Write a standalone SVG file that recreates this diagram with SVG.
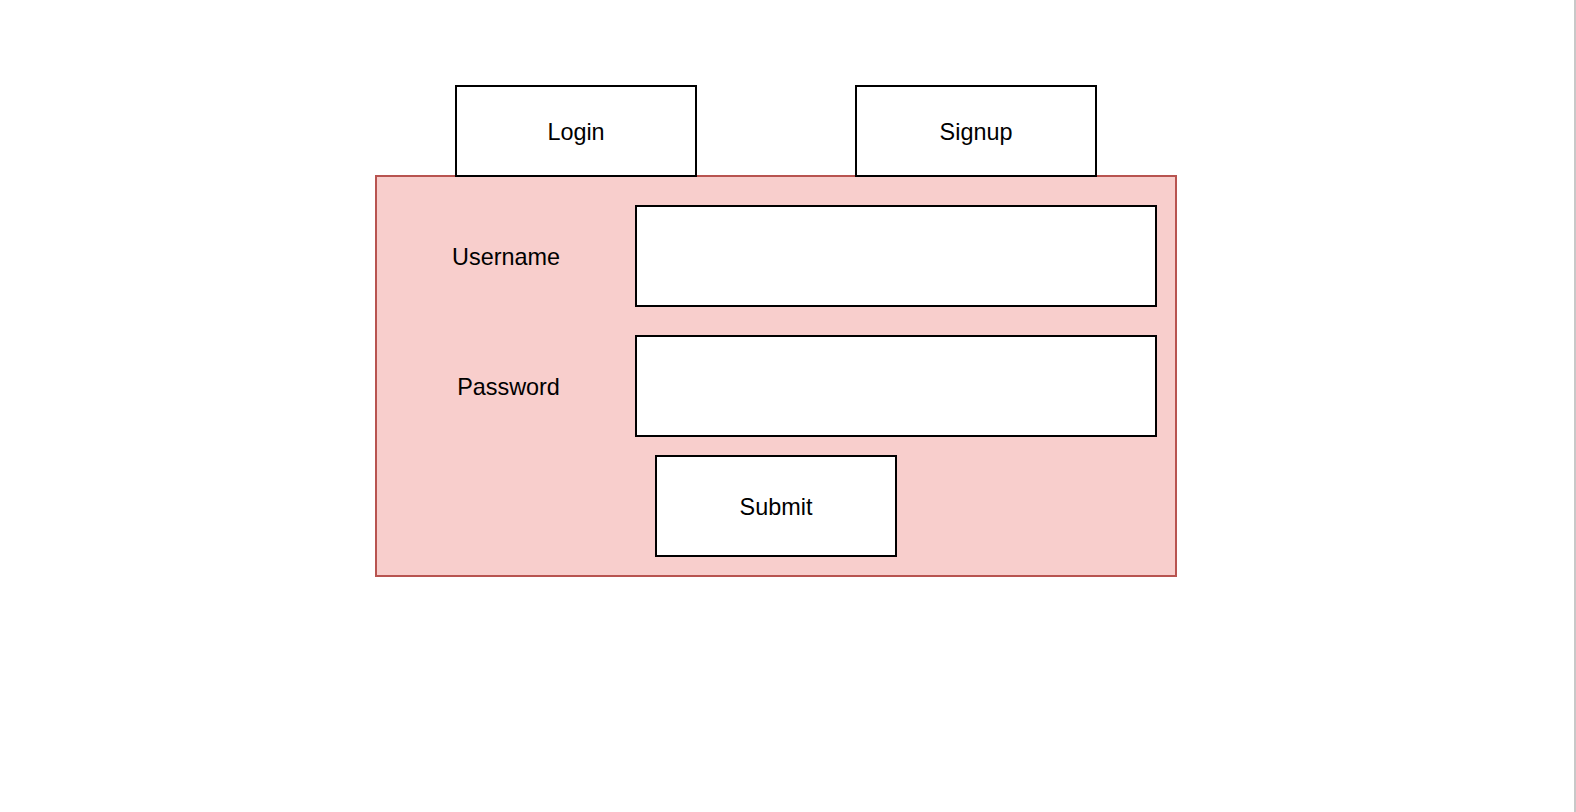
<svg xmlns="http://www.w3.org/2000/svg" width="1576" height="812" viewBox="0 0 1576 812">
  <style>
    .box { fill: #ffffff; stroke: #000000; stroke-width: 2; }
    .panel { fill: #f8cecc; stroke: #b85450; stroke-width: 2; }
    .lbl { font-family: "Liberation Sans", Arial, Helvetica, sans-serif; font-size: 23.4px; fill: #000000; text-anchor: middle; }
  </style>
  <rect x="0" y="0" width="1576" height="812" fill="#ffffff"/>
  <line x1="1575" y1="0" x2="1575" y2="812" stroke="#c8c8c8" stroke-width="2"/>
  <g id="form-panel">
    <rect class="panel" x="376" y="176" width="800" height="400"/>
  </g>
  <g id="login">
    <rect class="box" x="456" y="86" width="240" height="90"/>
    <text class="lbl" x="576" y="140">Login</text>
  </g>
  <g id="signup">
    <rect class="box" x="856" y="86" width="240" height="90"/>
    <text class="lbl" x="976" y="140">Signup</text>
  </g>
  <g id="username-label">
    <text class="lbl" x="506" y="265">Username</text>
  </g>
  <g id="username-input">
    <rect class="box" x="636" y="206" width="520" height="100"/>
  </g>
  <g id="password-label">
    <text class="lbl" x="508.5" y="395">Password</text>
  </g>
  <g id="password-input">
    <rect class="box" x="636" y="336" width="520" height="100"/>
  </g>
  <g id="submit">
    <rect class="box" x="656" y="456" width="240" height="100"/>
    <text class="lbl" x="776" y="515">Submit</text>
  </g>
  <g id="connectors"></g>
</svg>
